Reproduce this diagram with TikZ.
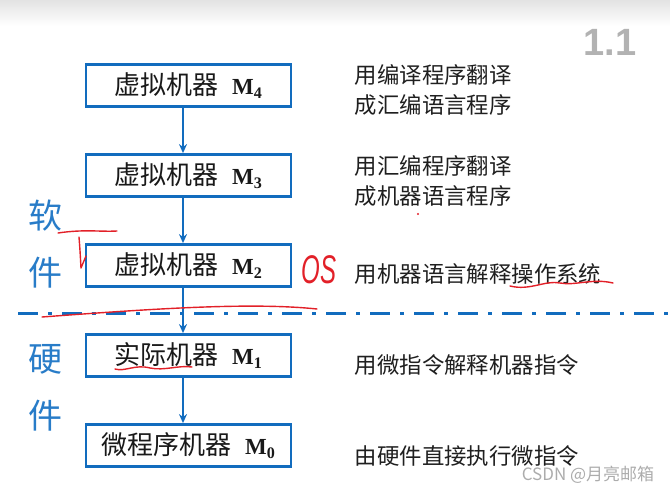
\documentclass[tikz,border=0pt]{standalone}
\usepackage{fontspec}
\usepackage{graphicx}
\setmainfont{Liberation Serif}
\newfontfamily\cjk{Noto Sans CJK SC}
\newfontfamily\handfont{Liberation Sans}
\usetikzlibrary{positioning,arrows.meta}

\definecolor{slideblue}{RGB}{18,108,190}
\definecolor{layerblue}{RGB}{40,124,200}
\definecolor{penred}{RGB}{226,32,40}

% box label: Chinese name + bold M with index
\newcommand\machinetext[2]{{\cjk #1}\hspace{7pt}{\fontsize{11.5}{13}\selectfont\textbf{M}\textsubscript{\textbf{#2}}}}

\begin{document}
\begin{tikzpicture}[
    x=0.5pt, y=-0.5pt,
    node distance=22.6pt,
    >=Stealth,
    machine/.style={rectangle, draw=slideblue, line width=1.4pt, minimum width=102.5pt, minimum height=21pt, inner sep=0pt, text=black!90, font=\fontsize{13}{15}\selectfont},
    desc/.style={rectangle, align=left, inner sep=0pt, text=black!88, font=\fontsize{11.2}{15}\selectfont\cjk},
    layer/.style={rectangle, align=center, inner sep=0pt, text=layerblue, font=\fontsize{17}{28.5}\selectfont\cjk},
    arrow/.style={-{Stealth[length=4.5pt,width=4pt]}, draw=slideblue, line width=1.2pt},
    divider/.style={draw=slideblue, line width=1.5pt, dash pattern=on 10pt off 5pt on 2pt off 5pt},
    pen/.style={draw=penred, line width=0.7pt, line cap=round, line join=round}
]
    \useasboundingbox (0,0) rectangle (670,492);
    \shade [top color=gray!22, bottom color=white] (0,0) rectangle (670,26);

    % Machine levels
    \node (m4) [machine] at (188.5,85.5) {\machinetext{虚拟机器}{4}};
    \node (m3) [machine, below=of m4] {\machinetext{虚拟机器}{3}};
    \node (m2) [machine, below=of m3] {\machinetext{虚拟机器}{2}};
    \node (m1) [machine, below=of m2] {\machinetext{实际机器}{1}};
    \node (m0) [machine, below=of m1] {\machinetext{微程序机器}{0}};

    % Descriptions
    \node (d4) [desc, right=31pt of m4, yshift=-2.5pt] {用编译程序翻译\\成汇编语言程序};
    \node (d3) [desc, right=31pt of m3, yshift=-2.8pt] {用汇编程序翻译\\成机器语言程序};
    \node (d2) [desc, right=31pt of m2, yshift=-4pt] {用机器语言解释操作系统};
    \node (d1) [desc, right=31pt of m1, yshift=-4.8pt] {用微指令解释机器指令};
    \node (d0) [desc, right=31pt of m0, yshift=-5pt] {由硬件直接执行微指令};

    % Software / hardware
    \node (software) [layer] at (45,244) {软\\件};
    \node (hardware) [layer] at (45,388) {硬\\件};
    \coordinate (divL) at (18,313);
    \coordinate (divR) at (670,313);
    \draw [divider] (divL) -- (divR);

    % Flow arrows
    \draw [arrow] ([xshift=-2.75pt]m4.south) -- ([xshift=-2.75pt]m3.north);
    \draw [arrow] ([xshift=-2.75pt]m3.south) -- ([xshift=-2.75pt]m2.north);
    \draw [arrow] ([xshift=-2.75pt]m2.south) -- ([xshift=-2.75pt]m1.north);
    \draw [arrow] ([xshift=-2.75pt]m1.south) -- ([xshift=-2.75pt]m0.north);

    % Pen notes
    \draw [pen] (58,233) .. controls (85,229) and (100,232) .. (117,231);
    \draw [pen] (79,237) .. controls (80,250) .. (81,268) -- (86,256);
    \node (os) [text=penred, inner sep=0pt, font=\fontsize{20}{22}\selectfont\handfont\itshape] at (319,270) {\scalebox{0.6}[1]{OS}};
    \draw [pen] (42,317) .. controls (150,309) and (250,302) .. (317,309);
    \draw [pen] (510,286) .. controls (530,291) and (545,280) .. (560,283) .. controls (575,286) and (592,278) .. (613,283);
    \draw [pen] (115,369) .. controls (125,372) and (135,364) .. (150,368) .. controls (165,371) and (178,365) .. (192,367);
    \fill [penred] (418,214) circle (0.6pt);

    % Slide number and watermark
    \node (slideno) [text=gray!60, inner sep=0pt, font=\fontsize{19}{20}\selectfont\handfont\bfseries] at (610,42) {1.1};
    \node (mark) [text=gray!65, inner sep=0pt, font=\fontsize{8.5}{10}\selectfont\cjk] at (588,475) {CSDN @月亮邮箱};
\end{tikzpicture}
\end{document}
